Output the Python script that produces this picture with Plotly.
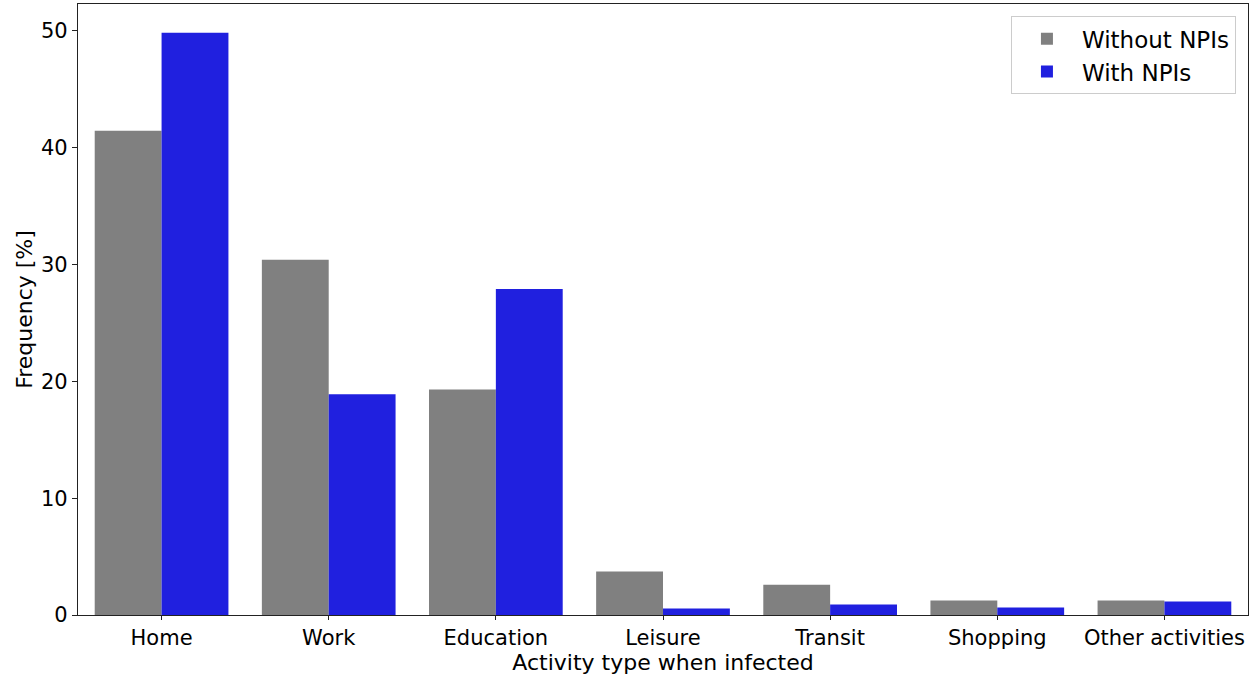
import plotly.graph_objects as go

categories = ["Home", "Work", "Education", "Leisure", "Transit", "Shopping", "Other activities"]
without_npis = [41.45, 30.4, 19.3, 3.72, 2.6, 1.24, 1.24]
with_npis = [49.83, 18.9, 27.9, 0.56, 0.9, 0.64, 1.15]
y_ticks = [0, 10, 20, 30, 40, 50]

font_family = "DejaVu Sans"

fig = go.Figure()
fig.add_trace(go.Bar(x=categories, y=without_npis, name="Without NPIs",
                     marker=dict(color="#808080", line=dict(width=0))))
fig.add_trace(go.Bar(x=categories, y=with_npis, name="With NPIs",
                     marker=dict(color="#2020df", line=dict(width=0))))

fig.update_layout(
    width=1255, height=676,
    margin=dict(l=78, r=7, t=4, b=61, autoexpand=False),
    paper_bgcolor="white", plot_bgcolor="white",
    barmode="group", bargap=0.2, bargroupgap=0,
    font=dict(family=font_family, size=21, color="black"),
    showlegend=True,
    legend=dict(x=0.9897, y=0.980, xanchor="right", yanchor="top",
                bordercolor="#cccccc", borderwidth=1, bgcolor="white",
                font=dict(size=23, family=font_family),
                itemwidth=60, tracegroupgap=4),
    xaxis=dict(range=[-0.5, 6.5], showline=True, linecolor="#222222", linewidth=1.3,
               mirror=True, ticks="outside", ticklen=4, tickcolor="#222222",
               showgrid=False, zeroline=False, automargin=False,
               tickfont=dict(size=21, family=font_family),
               title=dict(text="Activity type when infected", font=dict(size=22, family=font_family),
                          standoff=0)),
    yaxis=dict(range=[0, 52.3], tickvals=y_ticks, showline=True, linecolor="#222222", linewidth=1.3,
               mirror=True, ticks="outside", ticklen=5, tickcolor="#222222",
               showgrid=False, zeroline=False, automargin=False,
               tickfont=dict(size=21, family=font_family),
               title=dict(text="Frequency [%]", font=dict(size=22, family=font_family),
                          standoff=2)),
)

fig.write_html("out.html", config={"displayModeBar": False},
               post_script="document.body.style.margin='0';document.body.style.padding='0';document.body.style.overflow='hidden';")
